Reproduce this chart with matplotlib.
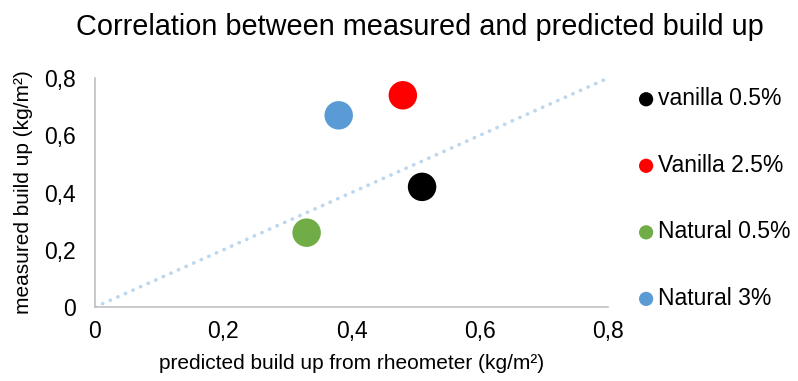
import matplotlib
matplotlib.use("Agg")
import matplotlib.pyplot as plt
import matplotlib.ticker as mticker

plt.rcParams["font.family"] = ["Liberation Sans", "DejaVu Sans"]

# ── Data ────────────────────────────────────────────────────────────────────
labels    = ["vanilla 0.5%", "Vanilla 2.5%", "Natural 0.5%", "Natural 3%"]
predicted = [0.51, 0.48, 0.33, 0.38]
measured  = [0.42, 0.74, 0.26, 0.67]
colors    = ["#000000", "#FF0000", "#70AD47", "#5B9BD5"]
ref_line  = [0.0, 0.8]

def comma_fmt(v, pos):
    if abs(v) < 1e-9:
        return "0"
    return f"{v:.1f}".replace(".", ",")

fig = plt.figure(figsize=(7.98, 3.81), dpi=100)
ax = fig.add_axes([0.119, 0.194, 0.643, 0.601])

ax.plot(ref_line, ref_line, color="#BDD7EE", linewidth=2.6,
        linestyle=(0, (0.1, 2.2)), dash_capstyle="round", zorder=1)

for x, y, c, lab in zip(predicted, measured, colors, labels):
    ax.scatter([x], [y], s=420, color=c, edgecolors="none", zorder=3, label=lab)

ax.set_xlim(0, 0.8)
ax.set_ylim(0, 0.8)
ax.xaxis.set_major_locator(mticker.MultipleLocator(0.2))
ax.yaxis.set_major_locator(mticker.MultipleLocator(0.2))
ax.xaxis.set_major_formatter(mticker.FuncFormatter(comma_fmt))
ax.yaxis.set_major_formatter(mticker.FuncFormatter(comma_fmt))
ax.tick_params(length=0, labelsize=16.5, colors="#000000")
ax.tick_params(axis="x", pad=9)
ax.tick_params(axis="y", pad=14)

for s in ("top", "right"):
    ax.spines[s].set_visible(False)
for s in ("left", "bottom"):
    ax.spines[s].set_color("#C0C0C0")
    ax.spines[s].set_linewidth(1.2)

ax.set_xlabel("predicted build up from rheometer (kg/m²)", fontsize=15, labelpad=8)
ax.set_ylabel("measured build up (kg/m²)", fontsize=15, labelpad=8)

fig.text(0.526, 0.929, "Correlation between measured and predicted build up",
         ha="center", va="center", fontsize=20.8)

leg = ax.legend(loc="upper left", bbox_to_anchor=(1.025, 1.02), frameon=False,
                fontsize=16.5, labelspacing=1.9, handletextpad=0.0,
                markerscale=0.5, borderaxespad=0.2, handlelength=1.0)

fig.savefig("out.png", dpi=100)
